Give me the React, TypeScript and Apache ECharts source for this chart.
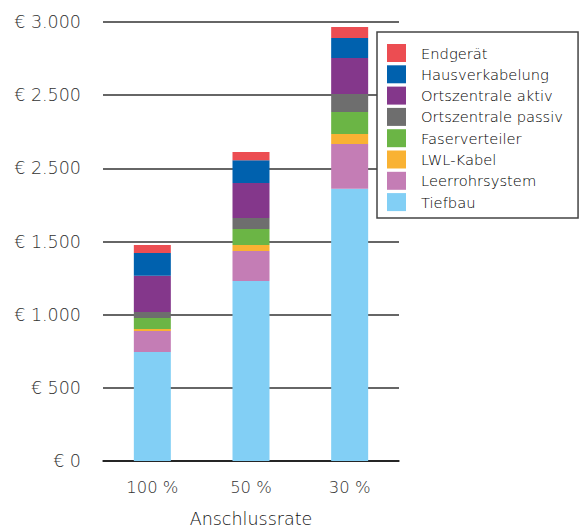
import React, { useEffect, useRef } from "react";
import * as echarts from "echarts";

const categories = ["100 %", "50 %", "30 %"];
const yTickLabels = ["€ 0", "€ 500", "€ 1.000", "€ 1.500", "€ 2.500", "€ 2.500", "€ 3.000"];

const tiefbau = [745, 1230, 1860];
const leerrohrsystem = [143, 205, 307];
const lwlKabel = [14, 41, 68];
const faserverteiler = [75, 109, 150];
const ortszentralePassiv = [41, 75, 123];
const ortszentraleAktiv = [248, 239, 246];
const hausverkabelung = [155, 157, 137];
const endgeraet = [55, 55, 75];

const seriesDefs = [
  { name: "Tiefbau", data: tiefbau, color: "#82CFF5" },
  { name: "Leerrohrsystem", data: leerrohrsystem, color: "#C47DB5" },
  { name: "LWL-Kabel", data: lwlKabel, color: "#F9B233" },
  { name: "Faserverteiler", data: faserverteiler, color: "#6BB545" },
  { name: "Ortszentrale passiv", data: ortszentralePassiv, color: "#6E6E6E" },
  { name: "Ortszentrale aktiv", data: ortszentraleAktiv, color: "#84378B" },
  { name: "Hausverkabelung", data: hausverkabelung, color: "#0061AE" },
  { name: "Endgerät", data: endgeraet, color: "#EC4D52" },
];

const FONT = "'DejaVu Sans', sans-serif";
const W = 300;

export default function App() {
  const ref = useRef<HTMLDivElement>(null);
  useEffect(() => {
    if (!ref.current) return;
    const chart = echarts.init(ref.current, null, { renderer: "svg" });
    chart.setOption({
      animation: false,
      backgroundColor: "#ffffff",
      textStyle: { fontFamily: FONT, fontWeight: W },
      grid: { left: 103, right: 180, top: 22, bottom: 68, outerBoundsMode: "none" },
      legend: {
        orient: "vertical",
        left: 377,
        top: 32,
        data: seriesDefs.map((s) => s.name).reverse(),
        itemWidth: 19,
        itemHeight: 18,
        itemGap: 3.3,
        padding: [12, 15, 7, 10],
        backgroundColor: "#ffffff",
        borderColor: "#444",
        borderWidth: 1.5,
        icon: "rect",
        textStyle: { fontFamily: FONT, fontWeight: W, fontSize: 14.7, color: "#000", padding: [0, 0, 0, 10] },
        selectedMode: false,
      },
      xAxis: {
        type: "category",
        data: categories,
        axisLine: { lineStyle: { color: "#111", width: 1.5 } },
        axisTick: { show: false },
        axisLabel: { fontFamily: FONT, fontWeight: W, fontSize: 16.4, color: "#333", margin: 18 },
        name: "Anschlussrate",
        nameLocation: "middle",
        nameGap: 49,
        nameTextStyle: { fontFamily: FONT, fontWeight: W, fontSize: 17.5, lineHeight: 18, color: "#111" },
      },
      yAxis: {
        type: "value",
        min: 0,
        max: 3000,
        interval: 500,
        axisLine: { show: false },
        axisTick: { show: false },
        axisLabel: {
          fontFamily: FONT,
          fontWeight: W,
          fontSize: 17.5,
          color: "#333",
          margin: 22,
          formatter: (v: number) => yTickLabels[Math.round(v / 500)] ?? "",
        },
        splitLine: {
          show: true,
          lineStyle: { color: "#333", width: 1.5 },
        },
      },
      series: seriesDefs.map((s) => ({
        name: s.name,
        type: "bar",
        stack: "total",
        data: s.data,
        barWidth: 37,
        itemStyle: { color: s.color },
      })),
    });
    return () => chart.dispose();
  }, []);
  return <div ref={ref} style={{ width: 579, height: 529, position: "absolute", left: 0, top: 0 }} />;
}
